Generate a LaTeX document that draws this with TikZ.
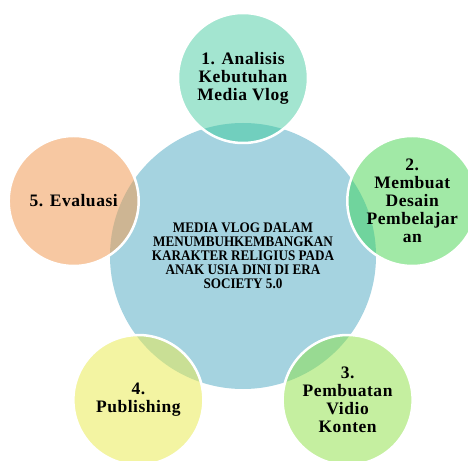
\documentclass[tikz,border=0pt]{standalone}
\usepackage{fontspec}
\setmainfont{Liberation Serif}

\definecolor{hubBlue}{HTML}{A5D3E0}
\definecolor{tealLight}{HTML}{A3E5D0}
\definecolor{tealDark}{HTML}{71CFBE}
\definecolor{greenLight}{HTML}{A1E9A6}
\definecolor{greenDark}{HTML}{70D49D}
\definecolor{limeLight}{HTML}{C5EFA0}
\definecolor{limeDark}{HTML}{98DA92}
\definecolor{yellowLight}{HTML}{F3F4A2}
\definecolor{yellowDark}{HTML}{C9DF95}
\definecolor{peachLight}{HTML}{F7C8A2}
\definecolor{peachDark}{HTML}{CDB593}

\begin{document}
\begin{tikzpicture}[x = 1pt, y = 1pt]
	\tikzstyle{hubStyle}=[shape = circle, minimum size = 266pt, inner sep = 0pt, fill = hubBlue, align = center, font = \fontsize{14.6}{14}\selectfont\bfseries\addfontfeature{FakeStretch=0.9}]
	\tikzstyle{stepStyle}=[align = center, inner sep = 0pt, font = \fontsize{17.5}{18}\selectfont\bfseries\addfontfeature{LetterSpace=3}]
	\tikzstyle{ringStyle}=[draw = white, line width = 2.5pt]
	\useasboundingbox (-243,-204) rectangle (225,256);
	\node[hubStyle] (hub) at (0,0) {MEDIA VLOG DALAM\\MENUMBUHKEMBANGKAN\\KARAKTER RELIGIUS PADA\\ANAK USIA DINI DI ERA\\SOCIETY 5.0};
	% outer circles
	\foreach \i/\a/\c in {1/90/tealLight, 2/18/greenLight, 3/-54/limeLight, 4/-126/yellowLight, 5/162/peachLight}{
		\coordinate (c\i) at (\a:178pt);
		\fill[\c] (c\i) circle (65pt);
	}
	% overlaps with the hub
	\foreach \i/\c in {1/tealDark, 2/greenDark, 3/limeDark, 4/yellowDark, 5/peachDark}{
		\begin{scope}
			\clip (hub.center) circle (133pt);
			\fill[\c] (c\i) circle (65pt);
		\end{scope}
	}
	\foreach \i in {1,...,5}
		\draw[ringStyle] (c\i) circle (65pt);
	\node[stepStyle] (s1) at (c1) {1. Analisis\\Kebutuhan\\Media Vlog};
	\node[stepStyle] (s2) at (c2) {2.\\Membuat\\Desain\\Pembelajar\\an};
	\node[stepStyle] (s3) at (c3) {3.\\Pembuatan\\Vidio\\Konten};
	\node[stepStyle] (s4) at (c4) {4.\\Publishing};
	\node[stepStyle] (s5) at (c5) {5. Evaluasi};
\end{tikzpicture}
\end{document}
